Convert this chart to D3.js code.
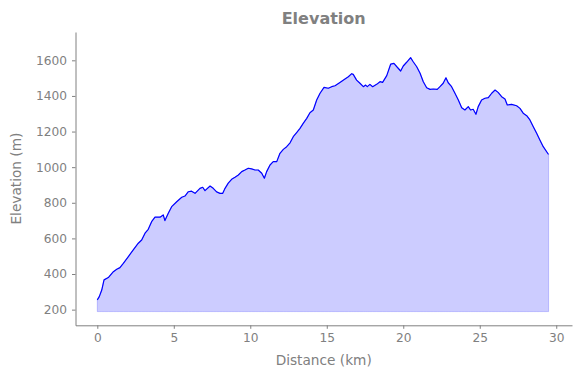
<!DOCTYPE html>
<html>
<head>
<meta charset="utf-8">
<script src="https://cdn.jsdelivr.net/npm/d3@7"></script>
<style>
  body { margin: 0; background: #fff; }
  svg { display: block; font-family: "DejaVu Sans", sans-serif; }
</style>
</head>
<body>
<div id="chart"></div>
<script>
// distance along the route (km) and elevation (m)
var distance = [0, 0.13, 0.29, 0.44, 0.72, 1.05, 1.27, 1.48, 1.70, 2.03, 2.35, 2.68, 2.90, 3.12, 3.33, 3.55, 3.77, 4.10, 4.31, 4.42, 4.64, 4.86, 5.19, 5.52, 5.73, 5.95, 6.16, 6.39,
	6.71, 6.89, 7.04, 7.37, 7.58, 7.80, 8.02, 8.20, 8.35, 8.56, 8.78, 9.00, 9.22, 9.44, 9.65, 9.87, 10.09, 10.31, 10.52, 10.75, 10.92, 11.07, 11.29, 11.50, 11.73, 11.94, 12.16, 12.38, 12.60, 12.81, 13.03, 13.25, 13.46, 13.69, 13.90, 14.12,
	14.34, 14.56, 14.82, 15.10, 15.32, 15.54, 15.86, 16.19, 16.41, 16.63, 16.73, 16.95, 17.17, 17.39, 17.54, 17.65, 17.82, 18.00, 18.26, 18.48, 18.65, 18.92, 19.18, 19.39, 19.61, 19.83, 20.00, 20.22, 20.48, 20.65, 20.88, 21.10,
	21.31, 21.53, 21.75, 21.96, 22.22, 22.40, 22.61, 22.79, 22.94, 23.16, 23.38, 23.60, 23.82, 24.03, 24.25, 24.40, 24.57, 24.75, 24.90, 25.12, 25.34, 25.56, 25.78, 26.00, 26.20, 26.43, 26.65, 26.80, 27.08, 27.41, 27.63, 27.84, 28.07, 28.28, 28.50, 28.72, 28.93, 29.15, 29.44, 29.50];
var elevation = [255, 273, 310, 367, 380, 413, 427, 436, 460, 498, 535, 573, 591, 629, 651, 694, 719, 719, 732, 700, 741, 778, 806, 831, 838, 862, 865, 853,
	881, 887, 868, 894, 881, 861, 853, 853, 881, 910, 932, 943, 956, 975, 984, 994, 990, 984, 984, 966, 938, 975, 1012, 1031, 1031, 1078, 1100, 1115, 1137, 1171, 1194, 1218, 1246, 1274, 1306, 1321,
	1377, 1415, 1448, 1443, 1452, 1457, 1476, 1495, 1508, 1525, 1521, 1489, 1471, 1452, 1461, 1452, 1465, 1452, 1465, 1480, 1476, 1514, 1579, 1583, 1561, 1540, 1568, 1589, 1615, 1592, 1564, 1527,
	1480, 1446, 1437, 1439, 1437, 1452, 1471, 1502, 1474, 1452, 1415, 1377, 1334, 1321, 1340, 1321, 1325, 1297, 1340, 1377, 1387, 1390, 1415, 1433, 1420, 1396, 1383, 1349, 1353, 1345, 1330, 1303, 1289, 1265, 1227, 1190, 1153, 1115, 1078, 1072];
var baseElevation = 189;

var xTicks = [0, 5, 10, 15, 20, 25, 30];
var yTicks = [200, 400, 600, 800, 1000, 1200, 1400, 1600];

var width = 580, height = 378;
var grey = "#808080";

var svg = d3.select("#chart").append("svg")
	.attr("width", width)
	.attr("height", height);

var x = d3.scaleLinear().domain([-1.425, 31.03]).range([75.5, 572]);
var y = d3.scaleLinear().domain([112, 1759]).range([325.3, 32]);

var points = distance.map(function(d, i) { return { d: d, e: elevation[i] }; });

// filled area under the profile
svg.append("path")
	.datum(points)
	.attr("d", d3.area()
		.x(function(p) { return x(p.d); })
		.y0(y(baseElevation))
		.y1(function(p) { return y(p.e); }))
	.attr("fill", "rgba(0,0,255,0.2)")
	.attr("stroke", "rgba(0,0,255,0.2)")
	.attr("stroke-width", 1);

svg.append("path")
	.datum(points)
	.attr("d", d3.line()
		.x(function(p) { return x(p.d); })
		.y(function(p) { return y(p.e); }))
	.attr("fill", "none")
	.attr("stroke", "blue")
	.attr("stroke-width", 1.2)
	.attr("stroke-linejoin", "round");

// axes, left and bottom spines only
var xAxis = svg.append("g")
	.attr("transform", "translate(0," + 325.3 + ")")
	.call(d3.axisBottom(x).tickValues(xTicks).tickFormat(d3.format("d")).tickSize(3.5).tickPadding(5).tickSizeOuter(0));
var yAxis = svg.append("g")
	.attr("transform", "translate(" + 75.5 + ",0)")
	.call(d3.axisLeft(y).tickValues(yTicks).tickFormat(d3.format("d")).tickSize(3.5).tickPadding(5).tickSizeOuter(0));

[xAxis, yAxis].forEach(function(a) {
	a.select(".domain").attr("stroke", grey).attr("stroke-width", 1);
	a.selectAll(".tick line").attr("stroke", grey).attr("stroke-width", 1);
	a.selectAll(".tick text")
		.attr("fill", grey)
		.attr("font-size", 12.2)
		.attr("font-family", "DejaVu Sans");
});

svg.append("text")
	.attr("x", 323.7)
	.attr("y", 24)
	.attr("text-anchor", "middle")
	.attr("font-size", 16)
	.attr("font-weight", "bold")
	.attr("fill", grey)
	.text("Elevation");

svg.append("text")
	.attr("x", 323.7)
	.attr("y", 365)
	.attr("text-anchor", "middle")
	.attr("font-size", 13.7)
	.attr("fill", grey)
	.text("Distance (km)");

svg.append("text")
	.attr("transform", "translate(21,178.6) rotate(-90)")
	.attr("text-anchor", "middle")
	.attr("font-size", 13.7)
	.attr("fill", grey)
	.text("Elevation (m)");
</script>
</body>
</html>
